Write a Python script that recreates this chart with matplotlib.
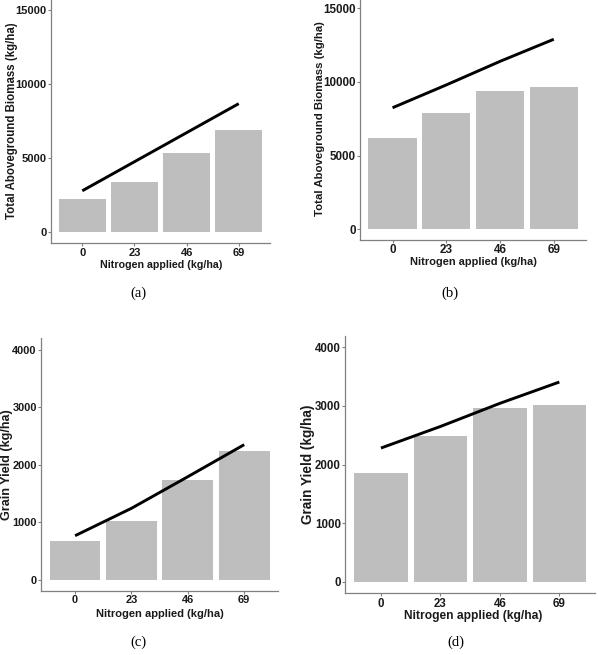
import matplotlib
matplotlib.use("Agg")
import matplotlib.pyplot as plt
from matplotlib.textpath import TextPath
from matplotlib.font_manager import FontProperties
import numpy as np

W, H = 598, 655
categories = ["0", "23", "46", "69"]

# Panel (a): total aboveground biomass
biomass_a_bars = [2230, 3370, 5350, 6900]
biomass_a_line = [2800, 4760, 6720, 8680]
# Panel (b)
biomass_b_bars = [6220, 7880, 9370, 9640]
biomass_b_line = [8250, 9800, 11400, 12900]
# Panel (c): grain yield
grain_c_bars = [676, 1023, 1729, 2232]
grain_c_line = [763, 1240, 1790, 2348]
# Panel (d)
grain_d_bars = [1851, 2487, 2960, 3011]
grain_d_line = [2282, 2650, 3045, 3409]

ylab_bio = "Total Aboveground Biomass (kg/ha)"
ylab_grain = "Grain Yield (kg/ha)"
xlab = "Nitrogen applied (kg/ha)"
panel_labels = ["(a)", "(b)", "(c)", "(d)"]

plt.rcParams['font.family'] = ['Liberation Sans', 'DejaVu Sans']

fig = plt.figure(figsize=(W / 100, H / 100), dpi=100)
bold_fp = FontProperties(family="Liberation Sans", weight="bold", size=10)

def fit_size(text, target_px):
    w = TextPath((0, 0), text, prop=bold_fp).get_extents().width * 100 / 72
    return 10 * target_px / w

def make_ax(x0, x1, ytop, ybot):
    return fig.add_axes([x0 / W, 1 - ybot / H, (x1 - x0) / W, (ybot - ytop) / H])

panels = [
    dict(box=(51, 270, -1.1, 243.4), bars=biomass_a_bars, line=biomass_a_line,
         ylim=(-750, 15750), yticks=[0, 5000, 10000, 15000], ylabel=ylab_bio,
         tick_fs=8.0, ylab_w=196, ylab_x=12, xlab_w=120, xlab_xy=(161, 265.5),
         plabel=(138, 293)),
    dict(box=(360.3, 586, -2.7, 240.3), bars=biomass_b_bars, line=biomass_b_line,
         ylim=(-750, 15750), yticks=[0, 5000, 10000, 15000], ylabel=ylab_bio,
         tick_fs=8.4, ylab_w=193, ylab_x=320, xlab_w=125, xlab_xy=(473.5, 262.5),
         plabel=(450, 293)),
    dict(box=(41.3, 278, 338.3, 591), bars=grain_c_bars, line=grain_c_line,
         ylim=(-200, 4200), yticks=[0, 1000, 2000, 3000, 4000], ylabel=ylab_grain,
         tick_fs=7.9, ylab_w=110, ylab_x=7, xlab_w=126, xlab_xy=(160, 614),
         plabel=(138, 642)),
    dict(box=(345.3, 595, 335.7, 593.4), bars=grain_d_bars, line=grain_d_line,
         ylim=(-200, 4200), yticks=[0, 1000, 2000, 3000, 4000], ylabel=ylab_grain,
         tick_fs=8.3, ylab_w=118, ylab_x=308, xlab_w=136, xlab_xy=(473, 616),
         plabel=(456, 642)),
]

spine_col = "#808080"
txt_col = "#1a1a1a"
for p, lab in zip(panels, panel_labels):
    ax = make_ax(*p["box"])
    x = np.arange(len(categories))
    ax.bar(x, p["bars"], width=0.9, color="#bebebe", zorder=1)
    ax.plot(x, p["line"], color="black", lw=2.1, solid_capstyle="butt", zorder=2)
    ax.set_xlim(-0.6, 3.6)
    ax.set_ylim(*p["ylim"])
    ax.set_xticks(x)
    ax.set_xticklabels(categories)
    ax.set_yticks(p["yticks"])
    for s in ["top", "right"]:
        ax.spines[s].set_visible(False)
    for s in ["left", "bottom"]:
        ax.spines[s].set_color(spine_col)
        ax.spines[s].set_linewidth(0.9)
    ax.tick_params(axis="both", length=2, width=0.8, color=spine_col,
                   labelsize=p["tick_fs"], labelcolor=txt_col)
    ax.tick_params(axis="y", pad=1.2)
    ax.tick_params(axis="x", pad=1.0)
    for t in ax.get_xticklabels() + ax.get_yticklabels():
        t.set_fontweight("bold")

    x0, x1, ytop, ybot = p["box"]
    ycen = (ytop + ybot) / 2
    fig.text(p["ylab_x"] / W, 1 - ycen / H, p["ylabel"], rotation=90,
             ha="center", va="center", fontweight="bold", color=txt_col,
             fontsize=fit_size(p["ylabel"], p["ylab_w"]))
    xx, xy = p["xlab_xy"]
    fig.text(xx / W, 1 - xy / H, xlab, ha="center", va="center",
             fontweight="bold", color=txt_col,
             fontsize=fit_size(xlab, p["xlab_w"]))
    px, py = p["plabel"]
    fig.text(px / W, 1 - py / H, lab, ha="center", va="center",
             fontsize=10.5, family=["Liberation Serif", "DejaVu Serif"])

fig.savefig("out.png", dpi=100)
